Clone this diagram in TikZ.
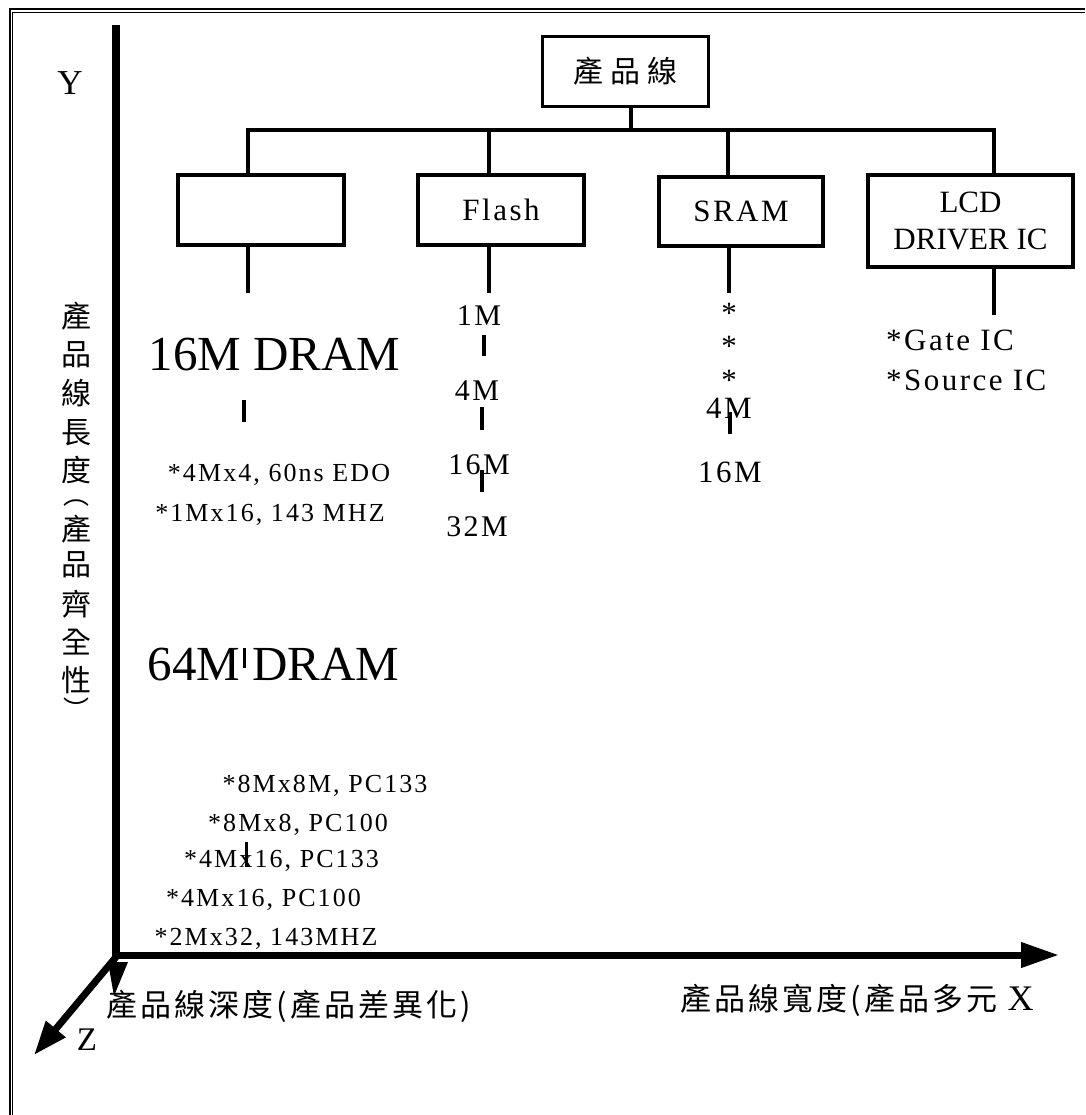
\documentclass[tikz,border=0pt]{standalone}
\usepackage{fontspec}
\setmainfont{Liberation Serif}
\newfontfamily\lsfont[LetterSpace=8]{Liberation Serif}
\newfontfamily\cjkfont{Noto Sans CJK TC}
\newfontfamily\cjkls[LetterSpace=10]{Noto Sans CJK TC}
\newfontfamily\cjkwide[LetterSpace=23]{Noto Sans CJK TC}
\usetikzlibrary{arrows.meta,calc}
\newcommand\fsz[2]{\fontsize{#1}{#2}\selectfont}
\begin{document}
\begin{tikzpicture}[x=1pt,y=-1pt,
  box/.style={draw, line width=3.8pt, inner sep=0pt, align=center},
  conn/.style={line width=3.8pt},
  tickline/.style={line width=3.5pt},
  thin tick/.style={line width=3pt},
  txt/.style={inner sep=0pt, anchor=base},
  ltxt/.style={inner sep=0pt, anchor=base west},
  vch/.style={inner sep=0pt, font=\cjkfont\fsz{30}{34}},
  vpar/.style={inner sep=0pt, font=\cjkfont\fsz{26}{30}},
  boxfont/.style={font=\lsfont\fsz{31}{37}},
  colfont/.style={font=\lsfont\fsz{30}{36}},
  bigfont/.style={font=\fsz{49}{58}},
  specfont/.style={font=\lsfont\fsz{26}{31}},
]
\useasboundingbox (0,0) rectangle (1085,1115);
% frame
\draw[line width=2pt] (9.5,1115) -- (9.5,9.5) -- (1085,9.5);
\draw[line width=1.3pt] (12.8,1115) -- (12.8,12.8) -- (1085,12.8);

% tree
\node[box, minimum width=166pt, minimum height=70pt, font=\cjkwide\fsz{30}{34}] (root) at (625.5,71.5) {產品線};
\node[box, minimum width=166pt, minimum height=70pt] (dram) at (261,210) {};
\node[box, minimum width=166pt, minimum height=70pt, boxfont] (flash) at (501,210) {Flash};
\node[box, minimum width=164pt, minimum height=69pt, boxfont] (sram) at (741,211.5) {SRAM};
\node[box, minimum width=205pt, minimum height=92pt, font=\fsz{31}{37}] (lcd) at (970.5,221) {LCD\\DRIVER IC};

\coordinate (bL) at (248,130);
\coordinate (bR) at (994,130);
\coordinate (bT) at (631,130);
\coordinate (bF) at (489,130);
\coordinate (bS) at (728,130);
\draw[conn] (dram.north -| bL) -- (bL) -- (bR) -- (lcd.north -| bR);
\draw[conn] (root.south -| bT) -- (bT);
\draw[conn] (bF) -- (bF |- flash.north);
\draw[conn] (bS) -- (bS |- sram.north);

\coordinate (dE) at (248,293);
\coordinate (fE) at (489,293);
\coordinate (sE) at (729,293);
\coordinate (lE) at (994,315);
\draw[conn] (dram.south -| dE) -- (dE);
\draw[conn] (flash.south -| fE) -- (fE);
\draw[conn] (sram.south -| sE) -- (sE);
\draw[conn] (lcd.south -| lE) -- (lE);

% Flash column
\node[txt, colfont] (f1) at (479,325) {1M};
\node[txt, colfont] (f4) at (477,400) {4M};
\node[txt, colfont] (f16) at (479,474) {16M};
\node[txt, colfont] (f32) at (477,536) {32M};
\draw[tickline] (f1.south) ++(5,10) -- ++(0,21);
\draw[tickline] (f4.south) ++(5,7) -- ++(0,23);
\draw[tickline] (f16.south) ++(3,-4) -- ++(0,22);

% 16M DRAM
\node[txt, bigfont] (d16) at (274.5,370) {16M DRAM};
\draw[tickline] (d16.base) ++(-30.5,30) -- ++(0,22);
\node[txt, specfont] (s1) at (279,481) {*4Mx4, 60ns EDO};
\node[txt, specfont] (s2) at (270,521) {*1Mx16, 143 MHZ};

% SRAM column
\node[txt, boxfont] (a1) at (729,323) {*};
\node[txt, boxfont] (a2) at (729,356) {*};
\node[txt, boxfont] (a3) at (729,390) {*};
\node[txt, boxfont] (r4) at (729,418) {4M};
\node[txt, boxfont] (r16) at (730,482) {16M};
\draw[tickline] (r4.base) ++(1,-6) -- ++(0,22);

% LCD items
\node[ltxt, boxfont] (g1) at (886,350) {*Gate IC};
\node[ltxt, boxfont] (g2) at (886,390) {*Source IC};

% 64M DRAM
\node[txt, bigfont] (d64) at (273.5,680) {64M DRAM};
\draw[thin tick] (d64.base) ++(-29.5,-32) -- ++(0,20);
\node[txt, specfont] (t1) at (325,792) {*8Mx8M, PC133};
\node[txt, specfont] (t2) at (298,831) {*8Mx8, PC100};
\node[txt, specfont] (t3) at (281.5,867) {*4Mx16, PC133};
\node[txt, specfont] (t4) at (263.5,906) {*4Mx16, PC100};
\node[txt, specfont] (t5) at (266,945) {*2Mx32, 143MHZ};
\draw[thin tick] (t3.base) ++(-35.5,-25) -- ++(0,25);

% axes
\coordinate (O) at (116,957);
\coordinate (Ytop) at (116,25);
\coordinate (Xstart) at (112,955);
\coordinate (Xtip) at (1059,955);
\coordinate (Ztip) at (34,1055);
\draw[line width=8pt] (Ytop) -- (O);
\draw[line width=7pt, -{Triangle[length=38pt,width=24pt]}] (Xstart) -- (Xtip);
\draw[line width=7pt, -{Triangle[length=34pt,width=24pt]}] (O) -- (Ztip);
\fill (108,962) -- (128,962) -- (114,996) -- cycle;

% axis labels
\node[txt, font=\fsz{35}{40}] (ylab) at (70,95) {Y};
\node[txt, font=\fsz{33}{38}] (zlab) at (87,1050) {Z};
\node[ltxt, font=\cjkls\fsz{31}{35}] (zdesc) at (106,1016) {產品線深度(產品差異化)};
\node[ltxt, font=\cjkls\fsz{31}{35}] (xdesc) at (680,1010) {產品線寬度(產品多元 {\rmfamily\fsz{36}{40}X}};

% vertical Y description
\node[vch] (v1) at (76,316) {產};
\node[vch] (v2) at (76,355) {品};
\node[vch] (v3) at (76,393) {線};
\node[vch] (v4) at (76,433) {長};
\node[vch] (v5) at (76,470) {度};
\node[vpar] (v6) at (76,503) {︵};
\node[vch] (v7) at (76,529) {產};
\node[vch] (v8) at (76,565) {品};
\node[vch] (v9) at (76,604) {齊};
\node[vch] (v10) at (76,642) {全};
\node[vch] (v11) at (76,680) {性};
\node[vpar] (v12) at (76,709) {︶};
\end{tikzpicture}
\end{document}
